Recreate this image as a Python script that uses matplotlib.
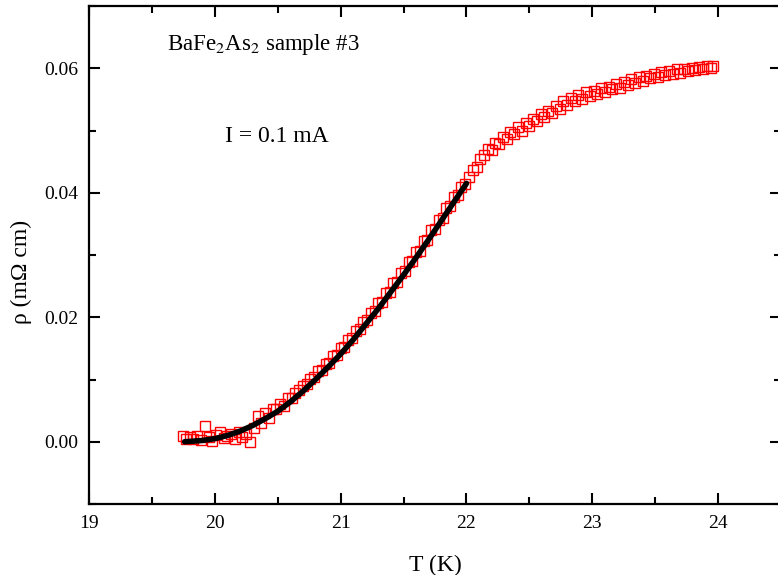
import numpy as np
import matplotlib
matplotlib.use("Agg")
import matplotlib.pyplot as plt
from matplotlib.ticker import MultipleLocator

plt.rcParams['font.family'] = ['Liberation Serif', 'DejaVu Serif']
plt.rcParams['mathtext.fontset'] = 'stix'

# measured points, T (K) and rho (mOhm cm)
temp = [19.75, 19.77, 19.80, 19.83, 19.86, 19.89, 19.92, 19.95, 19.98, 20.01,
        20.04, 20.07, 20.10, 20.13, 20.16, 20.19, 20.22, 20.25, 20.28, 20.31,
        20.34, 20.37, 20.40, 20.43, 20.46, 20.49, 20.52, 20.55, 20.58, 20.61,
        20.64, 20.67, 20.70, 20.73, 20.76, 20.79, 20.82, 20.85, 20.88, 20.91,
        20.94, 20.97, 21.00, 21.03, 21.06, 21.09, 21.12, 21.15, 21.18, 21.21,
        21.24, 21.27, 21.30, 21.33, 21.36, 21.39, 21.42, 21.45, 21.48, 21.51,
        21.54, 21.57, 21.60, 21.63, 21.66, 21.69, 21.72, 21.75, 21.78, 21.81,
        21.84, 21.87, 21.90, 21.93, 21.96, 21.99,
        22.02, 22.05, 22.08, 22.11, 22.14, 22.17, 22.20, 22.23, 22.26, 22.29,
        22.32, 22.35, 22.38, 22.41, 22.44, 22.47, 22.50, 22.53, 22.56, 22.59,
        22.62, 22.65, 22.68, 22.71, 22.74, 22.77, 22.80, 22.83, 22.86, 22.89,
        22.92, 22.95, 22.98, 23.01, 23.04, 23.07, 23.10, 23.13, 23.16, 23.19,
        23.22, 23.25, 23.28, 23.31, 23.34, 23.37, 23.40, 23.43, 23.46, 23.49,
        23.52, 23.55, 23.58, 23.61, 23.64, 23.67, 23.70, 23.73, 23.76, 23.79,
        23.82, 23.85, 23.88, 23.91, 23.94, 23.96]
rho = [0.0010, 0.0004, 0.0008, 0.0005, 0.0009, 0.0003, 0.0026, 0.0007, 0.0002, 0.0011,
       0.0015, 0.0006, 0.0009, 0.0013, 0.0004, 0.0016, 0.0008, 0.0012, -0.0001, 0.0022,
       0.0042, 0.0030, 0.0046, 0.0038, 0.0053, 0.0052, 0.0061, 0.0058, 0.0070, 0.0071,
       0.0079, 0.0083, 0.0090, 0.0093, 0.0101, 0.0104, 0.0113, 0.0115, 0.0125, 0.0127,
       0.0137, 0.0139, 0.0150, 0.0152, 0.0163, 0.0166, 0.0178, 0.0181, 0.0192, 0.0195,
       0.0207, 0.0210, 0.0223, 0.0225, 0.0239, 0.0241, 0.0255, 0.0257, 0.0271, 0.0274,
       0.0288, 0.0290, 0.0305, 0.0307, 0.0322, 0.0324, 0.0340, 0.0342, 0.0357, 0.0360,
       0.0375, 0.0378, 0.0393, 0.0396, 0.0410, 0.0414,
       0.0425, 0.0437, 0.0442, 0.0455, 0.0460, 0.0470, 0.0468, 0.0480, 0.0478, 0.0490,
       0.0486, 0.0497, 0.0494, 0.0505, 0.0500, 0.0512, 0.0508, 0.0519, 0.0516, 0.0527,
       0.0521, 0.0532, 0.0528, 0.0540, 0.0535, 0.0548, 0.0541, 0.0552, 0.0547, 0.0557,
       0.0551, 0.0562, 0.0555, 0.0563, 0.0559, 0.0568, 0.0562, 0.0570, 0.0566, 0.0574,
       0.0569, 0.0578, 0.0573, 0.0582, 0.0577, 0.0586, 0.0580, 0.0588, 0.0584, 0.0591,
       0.0586, 0.0594, 0.0589, 0.0596, 0.0591, 0.0598, 0.0593, 0.0599, 0.0595, 0.0601,
       0.0597, 0.0602, 0.0598, 0.0603, 0.0600, 0.0604]

# fit curve
fit_t = [19.76, 19.90, 20.00, 20.10, 20.20, 20.30, 20.40, 20.50, 20.60, 20.70,
         20.80, 20.90, 21.00, 21.10, 21.20, 21.30, 21.40, 21.50, 21.60, 21.70,
         21.80, 21.90, 22.00]
fit_rho = [0.0000, 0.0002, 0.0005, 0.0010, 0.0017, 0.0026, 0.0037, 0.0049, 0.0064, 0.0081,
           0.0100, 0.0120, 0.0141, 0.0164, 0.0189, 0.0214, 0.0241, 0.0268, 0.0296, 0.0325,
           0.0355, 0.0385, 0.0415]

fig = plt.figure(figsize=(7.78, 5.75), dpi=100)
ax = fig.add_axes([89 / 778, 71 / 575, 692 / 778, 498 / 575])

ax.plot(temp, rho, ls='none', marker='s', ms=7.5, mfc='none', mec='red', mew=1.0)
ax.plot(fit_t, fit_rho, color='black', lw=4, solid_capstyle='round')

ax.set_xlim(19, 24.5)
ax.set_ylim(-0.01, 0.07)
ax.xaxis.set_major_locator(MultipleLocator(1))
ax.xaxis.set_minor_locator(MultipleLocator(0.5))
ax.yaxis.set_major_locator(MultipleLocator(0.02))
ax.yaxis.set_minor_locator(MultipleLocator(0.01))
ax.yaxis.set_major_formatter(plt.FormatStrFormatter('%.2f'))

ax.tick_params(which='both', direction='in', top=True, right=True, width=1.5)
ax.tick_params(which='major', length=8, pad=8)
ax.tick_params(axis='y', which='major', labelsize=14)
ax.tick_params(axis='x', which='major', labelsize=14)
ax.tick_params(which='minor', length=5)
for s in ax.spines.values():
    s.set_linewidth(1.6)

ax.set_xlabel('T (K)', fontsize=17)
ax.set_ylabel('ρ (mΩ cm)', fontsize=17)
ax.xaxis.set_label_coords(0.5, -0.102)
ax.yaxis.set_label_coords(-0.082, 0.466)

ax.text(0.113, 0.922, 'BaFe$_2$As$_2$ sample #3', transform=ax.transAxes,
        fontsize=16.5, va='center', ha='left')
ax.text(0.197, 0.737, 'I = 0.1 mA', transform=ax.transAxes,
        fontsize=17, va='center', ha='left')

fig.savefig('out.png', dpi=100)
